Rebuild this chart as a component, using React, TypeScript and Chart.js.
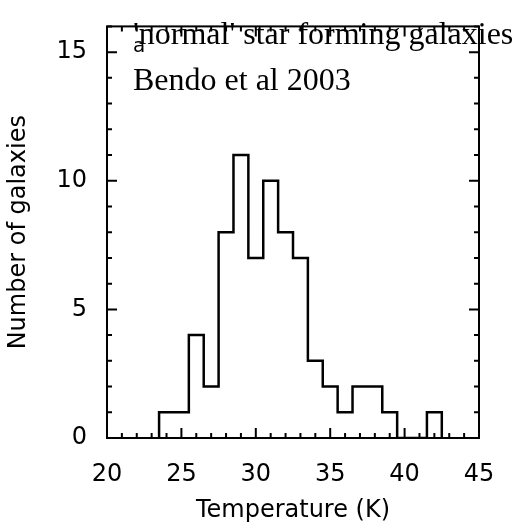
import { useEffect, useRef } from 'react';
import { Chart, registerables } from 'chart.js';

Chart.register(...registerables);

// bins of 1 K, centred on the integer temperatures
const binCentres = [24, 25, 26, 27, 28, 29, 30, 31, 32, 33, 34, 35, 36, 37, 38, 39, 40, 41, 42];
const counts = [1, 1, 4, 2, 8, 11, 7, 10, 8, 7, 3, 2, 1, 2, 2, 1, 0, 0, 1];
const xTicks = [20, 25, 30, 35, 40, 45];
const yTicks = [0, 5, 10, 15];

const boxPlugin = {
  id: 'box',
  afterDraw(chart: any) {
    const { ctx, chartArea: a, scales } = chart;
    const x = scales.x, y = scales.y;
    ctx.save();
    ctx.strokeStyle = '#000';
    ctx.lineWidth = 2;
    ctx.strokeRect(a.left, a.top, a.right - a.left, a.bottom - a.top);
    ctx.beginPath();
    for (let v = 20; v <= 45; v++) {
      const len = v % 5 === 0 ? 10 : 5;
      const px = x.getPixelForValue(v);
      ctx.moveTo(px, a.bottom); ctx.lineTo(px, a.bottom - len);
      ctx.moveTo(px, a.top); ctx.lineTo(px, a.top + len);
    }
    for (let v = 0; v <= 16; v++) {
      const len = v % 5 === 0 ? 10 : 5;
      const py = y.getPixelForValue(v);
      ctx.moveTo(a.left, py); ctx.lineTo(a.left + len, py);
      ctx.moveTo(a.right, py); ctx.lineTo(a.right - len, py);
    }
    ctx.stroke();
    ctx.fillStyle = '#000';
    ctx.font = '20px "DejaVu Sans", sans-serif';
    ctx.textBaseline = 'alphabetic';
    ctx.textAlign = 'left';
    ctx.fillText('a', 133, 52);
    ctx.font = '32px "Liberation Serif", serif';
    ctx.fillText("'normal' star forming galaxies", 133, 44);
    ctx.fillText('Bendo et al 2003', 133, 90);
    ctx.restore();
  },
};

export default function App() {
  const ref = useRef<HTMLCanvasElement>(null);
  useEffect(() => {
    if (!ref.current) return;
    const pts: { x: number; y: number }[] = [{ x: binCentres[0] - 0.5, y: 0 }];
    binCentres.forEach((c, i) => pts.push({ x: c - 0.5, y: counts[i] }));
    pts.push({ x: binCentres[binCentres.length - 1] + 0.5, y: 0 });
    const font = { family: '"DejaVu Sans", sans-serif', size: 24 };
    const chart = new Chart(ref.current, {
      type: 'line',
      data: {
        datasets: [{
          data: pts,
          stepped: 'before',
          borderColor: '#000',
          borderWidth: 2.5,
          pointRadius: 0,
          fill: false,
        }],
      },
      options: {
        animation: false,
        responsive: false,
        layout: { padding: { top: 12, right: 44, left: 0, bottom: 0 } },
        plugins: { legend: { display: false }, tooltip: { enabled: false } },
        scales: {
          x: {
            type: 'linear', min: 20, max: 45,
            afterBuildTicks: (s: any) => { s.ticks = xTicks.map(v => ({ value: v })); },
            afterFit: (s: any) => { s.height = 91; },
            grid: { display: false },
            border: { display: false },
            ticks: { color: '#000', font, padding: 14 },
            title: { display: true, text: 'Temperature (K)', color: '#000', font, padding: { top: 2 } },
          },
          y: {
            min: 0, max: 16,
            afterBuildTicks: (s: any) => { s.ticks = yTicks.map(v => ({ value: v })); },
            afterFit: (s: any) => { s.width = 107; },
            grid: { display: false },
            border: { display: false },
            ticks: { color: '#000', font, padding: 12 },
            title: { display: true, text: 'Number of galaxies', color: '#000', font, padding: { bottom: 2 } },
          },
        },
      },
      plugins: [boxPlugin],
    });
    return () => chart.destroy();
  }, []);
  return (
    <div style={{ position: 'fixed', left: 0, top: 0, width: 523, height: 529, background: '#fff' }}>
      <canvas ref={ref} width={523} height={529} />
    </div>
  );
}
